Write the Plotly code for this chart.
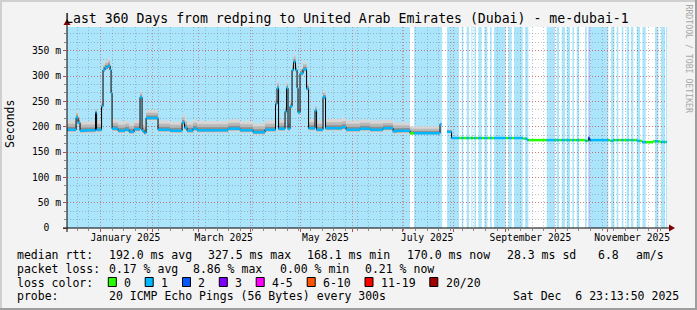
import plotly.graph_objects as go
import pandas as pd

# ---------------- data ----------------
chart_title = "Last 360 Days from redping to United Arab Emirates (Dubai) - me-dubai-1"
range_start = "2024-12-11 23:13:50"
range_end = "2025-12-06 23:13:50"

# median RTT (ms) as a step series: value holds from this time until the next one
median_time = [
    "2024-12-11 23:13", "2024-12-17 10:00", "2024-12-18 14:00", "2024-12-19 19:00", "2024-12-22 19:00",
    "2024-12-29 02:00", "2024-12-29 17:00", "2025-01-01 17:00", "2025-01-02 14:00", "2025-01-03 19:00",
    "2025-01-05 14:00", "2025-01-06 19:00", "2025-01-07 10:00", "2025-01-08 00:00", "2025-01-11 14:00",
    "2025-01-15 19:00", "2025-01-18 05:00", "2025-01-21 05:00", "2025-01-24 19:00", "2025-01-26 00:00",
    "2025-01-27 05:00", "2025-01-28 10:00", "2025-02-04 14:00", "2025-02-11 19:00", "2025-02-19 00:00",
    "2025-02-20 12:00", "2025-02-22 00:00", "2025-02-25 14:00", "2025-02-28 00:00", "2025-03-18 14:00",
    "2025-03-25 19:00", "2025-04-02 14:00", "2025-04-09 19:00", "2025-04-16 02:00", "2025-04-17 00:00",
    "2025-04-17 22:00", "2025-04-21 19:00", "2025-04-22 17:00", "2025-04-23 14:00", "2025-04-24 19:00",
    "2025-04-26 00:00", "2025-04-26 22:00", "2025-04-28 02:00", "2025-04-29 00:00", "2025-04-29 14:00",
    "2025-04-30 19:00", "2025-05-02 14:00", "2025-05-04 17:00", "2025-05-05 22:00", "2025-05-09 19:00",
    "2025-05-10 17:00", "2025-05-14 14:00", "2025-05-16 02:00", "2025-05-26 00:00", "2025-05-28 10:00",
    "2025-06-05 19:00", "2025-06-11 19:00", "2025-06-19 14:00", "2025-06-25 14:00", "2025-06-28 00:00",
    "2025-07-05 19:00", "2025-07-23 19:00", "2025-07-24 17:00", "2025-07-28 00:00", "2025-07-30 17:00",
    "2025-09-11 14:00", "2025-09-14 00:00", "2025-10-18 19:00", "2025-10-20 19:00", "2025-10-21 12:00",
    "2025-11-02 19:00", "2025-11-04 14:00", "2025-11-19 00:00", "2025-11-22 00:00", "2025-11-28 14:00",
    "2025-12-02 19:00",
]
median_ms = [
    194, 218, 208, 192, 193, 228, 194, 240, 312, 317,
    320, 312, 266, 196, 192, 194, 190, 195, 258, 192,
    188, 217, 194, 192, 208, 198, 192, 196, 193, 196,
    193, 189, 194, 245, 276, 196, 230, 276, 196, 240,
    312, 328, 312, 276, 228, 305, 313, 275, 197, 232,
    194, 258, 197, 199, 194, 196, 194, 197, 191, 192,
    187, 205, None, 190, 177.6, 176.5, 173.5, 172, 178, 173.5,
    172, 173.5, 172, 169.5, 171, 170,
]
# spread of the ping "smoke" above / below the median (ms)
smoke_above_ms = [
    18, 14, 16, 18, 18, 10, 18, 12, 14, 14,
    16, 14, 12, 18, 18, 18, 18, 18, 12, 18,
    18, 16, 18, 18, 16, 18, 18, 18, 18, 18,
    18, 18, 18, 14, 16, 18, 14, 14, 18, 12,
    14, 16, 12, 12, 12, 14, 16, 14, 18, 12,
    18, 14, 18, 18, 18, 18, 18, 16, 18, 16,
    14, 4, None, 6, 1.5, 1.5, 1.5, 1.5, 1.5, 1.5,
    1.5, 1.5, 1.5, 1.5, 1.5, 1.5,
]
smoke_below_ms = [
    6, 6, 6, 6, 6, 6, 6, 6, 6, 6,
    6, 6, 6, 6, 6, 6, 6, 6, 6, 6,
    6, 6, 6, 6, 6, 6, 6, 6, 6, 6,
    6, 6, 6, 6, 6, 6, 6, 6, 6, 6,
    6, 6, 6, 6, 6, 6, 6, 6, 6, 6,
    6, 6, 6, 6, 6, 6, 6, 6, 6, 6,
    3, 2, None, 2, 1, 1, 1, 1, 1, 1,
    1, 1, 1, 1, 1, 1,
]

# periods with packet loss (level = index into loss colours)
loss_start = [
    "2024-12-11 23:13", "2025-07-08 05:00", "2025-07-28 00:00", "2025-08-05 19:00", "2025-08-08 19:00",
    "2025-08-11 14:00", "2025-08-13 10:00", "2025-08-15 19:00", "2025-08-19 10:00", "2025-08-22 19:00",
    "2025-08-25 05:00", "2025-09-02 19:00", "2025-09-06 05:00", "2025-09-12 19:00", "2025-09-25 19:00",
    "2025-10-01 19:00", "2025-10-04 19:00", "2025-10-07 19:00", "2025-10-11 05:00", "2025-10-13 19:00",
    "2025-10-18 19:00", "2025-10-20 19:00", "2025-10-22 02:00", "2025-11-03 10:00", "2025-11-06 19:00",
    "2025-11-09 19:00", "2025-11-12 19:00", "2025-11-15 10:00", "2025-11-18 19:00", "2025-11-22 05:00",
    "2025-11-29 19:00", "2025-12-03 10:00", "2025-12-06 10:00",
]
loss_end = [
    "2025-07-05 19:00", "2025-07-25 00:00", "2025-08-04 05:00", "2025-08-06 19:00", "2025-08-10 05:00",
    "2025-08-12 05:00", "2025-08-14 10:00", "2025-08-17 19:00", "2025-08-21 05:00", "2025-08-23 19:00",
    "2025-09-01 05:00", "2025-09-04 19:00", "2025-09-11 10:00", "2025-09-14 19:00", "2025-09-30 19:00",
    "2025-10-03 05:00", "2025-10-06 19:00", "2025-10-09 19:00", "2025-10-12 05:00", "2025-10-15 05:00",
    "2025-10-19 19:00", "2025-10-22 02:00", "2025-11-01 19:00", "2025-11-05 10:00", "2025-11-07 19:00",
    "2025-11-10 19:00", "2025-11-14 05:00", "2025-11-16 19:00", "2025-11-20 19:00", "2025-11-24 05:00",
    "2025-12-01 19:00", "2025-12-05 19:00", "2025-12-06 23:13",
]
loss_level = [1] * 21 + [2] + [1] * 11

loss_labels = ["0", "1", "2", "3", "4-5", "6-10", "11-19", "20/20"]
loss_colors = ["#26ff00", "#00b8ff", "#0059ff", "#7e00ff", "#ff00ff", "#ff5500", "#ff0000", "#a10000"]
loss_background = {1: "#abe5fb", 2: "#b0c6ff"}

y_tick_values = [0, 50, 100, 150, 200, 250, 300, 350]
y_tick_labels = ["0\u00a0\u00a0", "50 m", "100 m", "150 m", "200 m", "250 m", "300 m", "350 m"]
month_label_dates = ["2025-01-16", "2025-03-16", "2025-05-16", "2025-07-16", "2025-09-16", "2025-11-16"]
month_labels = ["January 2025", "March 2025", "May 2025", "July 2025", "September 2025", "November 2025"]

rtt_stats = ["median rtt:", "192.0 ms avg", "327.5 ms max", "168.1 ms min", "170.0 ms now", "28.3 ms sd", "6.8", "am/s"]
loss_stats = ["packet loss:", "0.17 % avg", "8.86 % max", "0.00 % min", "0.21 % now"]
probe_row = ["probe:", "20 ICMP Echo Pings (56 Bytes) every 300s"]
timestamp_text = "Sat Dec  6 23:13:50 2025"

# ---------------- helpers ----------------
MONO = "DejaVu Sans Mono"
L, R, T_, B = 67, 30, 27, 82
W, H = 697, 310
PW, PH = W - L - R, H - T_ - B


def PX(px):
    return (px - L) / PW


def PY(py):
    return (H - B - py) / PH


def nb(s):
    return s.replace(" ", "\u00a0")


def iso(t):
    return t.strftime("%Y-%m-%d %H:%M:%S")


TT = [pd.Timestamp(t) for t in median_time] + [pd.Timestamp(range_end)]


def band_polygons(frac):
    xs, ys, section = [], [], []

    def flush():
        if not section:
            return
        ux, uy, lx, ly = [], [], [], []
        for a, b, lo, hi in section:
            ux += [iso(a), iso(b)]
            uy += [hi, hi]
        for a, b, lo, hi in reversed(section):
            lx += [iso(b), iso(a)]
            ly += [lo, lo]
        xs.extend(ux + lx + [None])
        ys.extend(uy + ly + [None])
        section.clear()

    for i, v in enumerate(median_ms):
        if v is None:
            flush()
            continue
        section.append((TT[i], TT[i + 1], v - frac * smoke_below_ms[i], v + frac * smoke_above_ms[i]))
    flush()
    return xs, ys


fig = go.Figure()

# smoke
for frac, col in [(1.0, "#d6d6d6"), (0.65, "#b8b8b8"), (0.33, "#8f8f8f")]:
    bx, by = band_polygons(frac)
    fig.add_trace(go.Scatter(x=bx, y=by, mode="lines", fill="toself", fillcolor=col,
                             line=dict(width=0, color=col), hoverinfo="skip", showlegend=False))

# black median (vertical connectors)
fig.add_trace(go.Scatter(x=[iso(t) for t in TT], y=median_ms + [median_ms[-1]], mode="lines",
                         line=dict(color="black", width=1, shape="hv"), connectgaps=False,
                         hoverinfo="skip", showlegend=False))

# coloured median segments by loss level
LS = [pd.Timestamp(t) for t in loss_start]
LE = [pd.Timestamp(t) for t in loss_end]
cuts = sorted(set(TT + [t for t in LS + LE if TT[0] <= t <= TT[-1]]))
segs = {}
for a, b in zip(cuts[:-1], cuts[1:]):
    idx = max(k for k in range(len(median_time)) if TT[k] <= a)
    v = median_ms[idx]
    if v is None:
        continue
    lvl = 0
    for s, e, l in zip(LS, LE, loss_level):
        if s <= a < e:
            lvl = l
    sx, sy = segs.setdefault(lvl, ([], []))
    sx += [iso(a), iso(b), None]
    sy += [v, v, None]
for lvl, (sx, sy) in sorted(segs.items()):
    fig.add_trace(go.Scatter(x=sx, y=sy, mode="lines", line=dict(color=loss_colors[lvl], width=2.5),
                             hoverinfo="skip", showlegend=False))

# dummy on label axis
fig.add_trace(go.Scatter(x=[range_start], y=[None], xaxis="x2", showlegend=False, hoverinfo="skip"))

shapes = []
for s, e, l in zip(loss_start, loss_end, loss_level):
    shapes.append(dict(type="rect", xref="x", yref="paper", x0=s, x1=e, y0=0, y1=1,
                       fillcolor=loss_background[l], line=dict(width=0), layer="below"))

# frame of the image
shapes += [
    dict(type="rect", xref="paper", yref="paper", x0=PX(0), x1=PX(W), y0=PY(0), y1=PY(2),
         fillcolor="#cfcfcf", line=dict(width=0)),
    dict(type="rect", xref="paper", yref="paper", x0=PX(0), x1=PX(2), y0=PY(0), y1=PY(H),
         fillcolor="#cfcfcf", line=dict(width=0)),
    dict(type="rect", xref="paper", yref="paper", x0=PX(0), x1=PX(W), y0=PY(H - 2), y1=PY(H),
         fillcolor="#9e9e9e", line=dict(width=0)),
    dict(type="rect", xref="paper", yref="paper", x0=PX(W - 2), x1=PX(W), y0=PY(0), y1=PY(H),
         fillcolor="#9e9e9e", line=dict(width=0)),
]
# axes with arrows
shapes += [
    dict(type="line", xref="paper", yref="paper", x0=PX(L - 4), x1=PX(L + PW + 4), y0=0, y1=0,
         line=dict(color="black", width=1)),
    dict(type="line", xref="paper", yref="paper", x0=0, x1=0, y0=PY(H - B + 4), y1=PY(T_ - 4),
         line=dict(color="black", width=1)),
    dict(type="path", xref="paper", yref="paper",
         path=f"M {PX(L + PW + 2)},{PY(H - B - 3.5)} L {PX(L + PW + 2)},{PY(H - B + 3.5)} L {PX(L + PW + 8)},{PY(H - B)} Z",
         fillcolor="#7f0000", line=dict(width=0)),
    dict(type="path", xref="paper", yref="paper",
         path=f"M {PX(L - 3.5)},{PY(T_ - 2)} L {PX(L + 3.5)},{PY(T_ - 2)} L {PX(L)},{PY(T_ - 8)} Z",
         fillcolor="#7f0000", line=dict(width=0)),
]

ann = []
ann.append(dict(text=nb(chart_title), x=PX(347), y=PY(18), xref="paper", yref="paper",
                showarrow=False, xanchor="center", yanchor="middle", font=dict(family=MONO, size=13.2)))
ann.append(dict(text="Seconds", x=PX(10), y=PY(124), xref="paper", yref="paper", textangle=-90,
                showarrow=False, xanchor="center", yanchor="middle", font=dict(family=MONO, size=11.5)))
ann.append(dict(text=nb("RRDTOOL / TOBI OETIKER"), x=PX(688.5), y=PY(59), xref="paper", yref="paper",
                textangle=90, showarrow=False, xanchor="center", yanchor="middle",
                font=dict(family=MONO, size=8.2, color="#a8a8a8")))


def row(texts, xs, py):
    for t, x in zip(texts, xs):
        ann.append(dict(text=nb(t), x=PX(x - 1), y=PY(py), xref="paper", yref="paper", showarrow=False,
                        xanchor="left", yanchor="middle", font=dict(family=MONO, size=11.5)))


row(rtt_stats, [16, 107.5, 207, 306, 406, 506, 597, 635], 255)
row(loss_stats, [16, 107.5, 192, 279, 364], 268.5)
row(["loss color:"], [16], 282.5)
row(loss_labels, [123, 159.8, 196.7, 234, 270.8, 321.9, 379.6, 444.9], 282.5)
row(probe_row, [16, 107.5], 296)
ann.append(dict(text=nb(timestamp_text), x=PX(681), y=PY(296), xref="paper", yref="paper", showarrow=False,
                xanchor="right", yanchor="middle", font=dict(family=MONO, size=11.5)))
for col, sx in zip(loss_colors, [108.3, 145.2, 182.5, 219.3, 256.2, 307.2, 365, 429.8]):
    shapes.append(dict(type="rect", xref="paper", yref="paper", x0=PX(sx), x1=PX(sx + 8), y0=PY(286.5),
                       y1=PY(277.5), fillcolor=col, line=dict(color="black", width=1)))

GRID = "rgba(110,110,120,0.40)"
MGRID = "rgba(225,60,60,0.55)"
DOT = "1px,2px"

fig.update_layout(
    width=W, height=H, margin=dict(l=L, r=R, t=T_, b=B),
    paper_bgcolor="#f3f3f3", plot_bgcolor="#ffffff", showlegend=False,
    font=dict(family=MONO, size=11.5, color="black"),
    shapes=shapes, annotations=ann,
    xaxis=dict(type="date", range=[range_start, range_end], dtick="M1", tick0="2025-01-01",
               showticklabels=False, ticks="outside", ticklen=3, tickcolor="#b05050",
               showgrid=True, gridcolor=MGRID, griddash=DOT, gridwidth=1,
               zeroline=False, showline=False,
               minor=dict(dtick=7 * 86400000, tick0="2025-01-01", showgrid=True, gridcolor=GRID,
                          griddash=DOT, ticks="outside", ticklen=2, tickcolor="#888888")),
    xaxis2=dict(type="date", range=[range_start, range_end], overlaying="x", anchor="y", side="bottom",
                tickmode="array", tickvals=month_label_dates, ticktext=month_labels, ticks="",
                ticklabelstandoff=2, showgrid=False, zeroline=False, showline=False,
                tickfont=dict(family=MONO, size=9.7, color="black")),
    yaxis=dict(range=[0, 396.8], tickmode="array", tickvals=y_tick_values, ticktext=y_tick_labels,
               ticks="outside", ticklen=3, tickcolor="#b05050",
               showgrid=True, gridcolor=MGRID, griddash=DOT, gridwidth=1,
               zeroline=False, showline=False,
               tickfont=dict(family=MONO, size=9.7, color="black"),
               minor=dict(dtick=50 / 3, tick0=0, showgrid=True, gridcolor=GRID, griddash=DOT,
                          ticks="outside", ticklen=2, tickcolor="#888888")),
)

fig.write_html("out.html")
